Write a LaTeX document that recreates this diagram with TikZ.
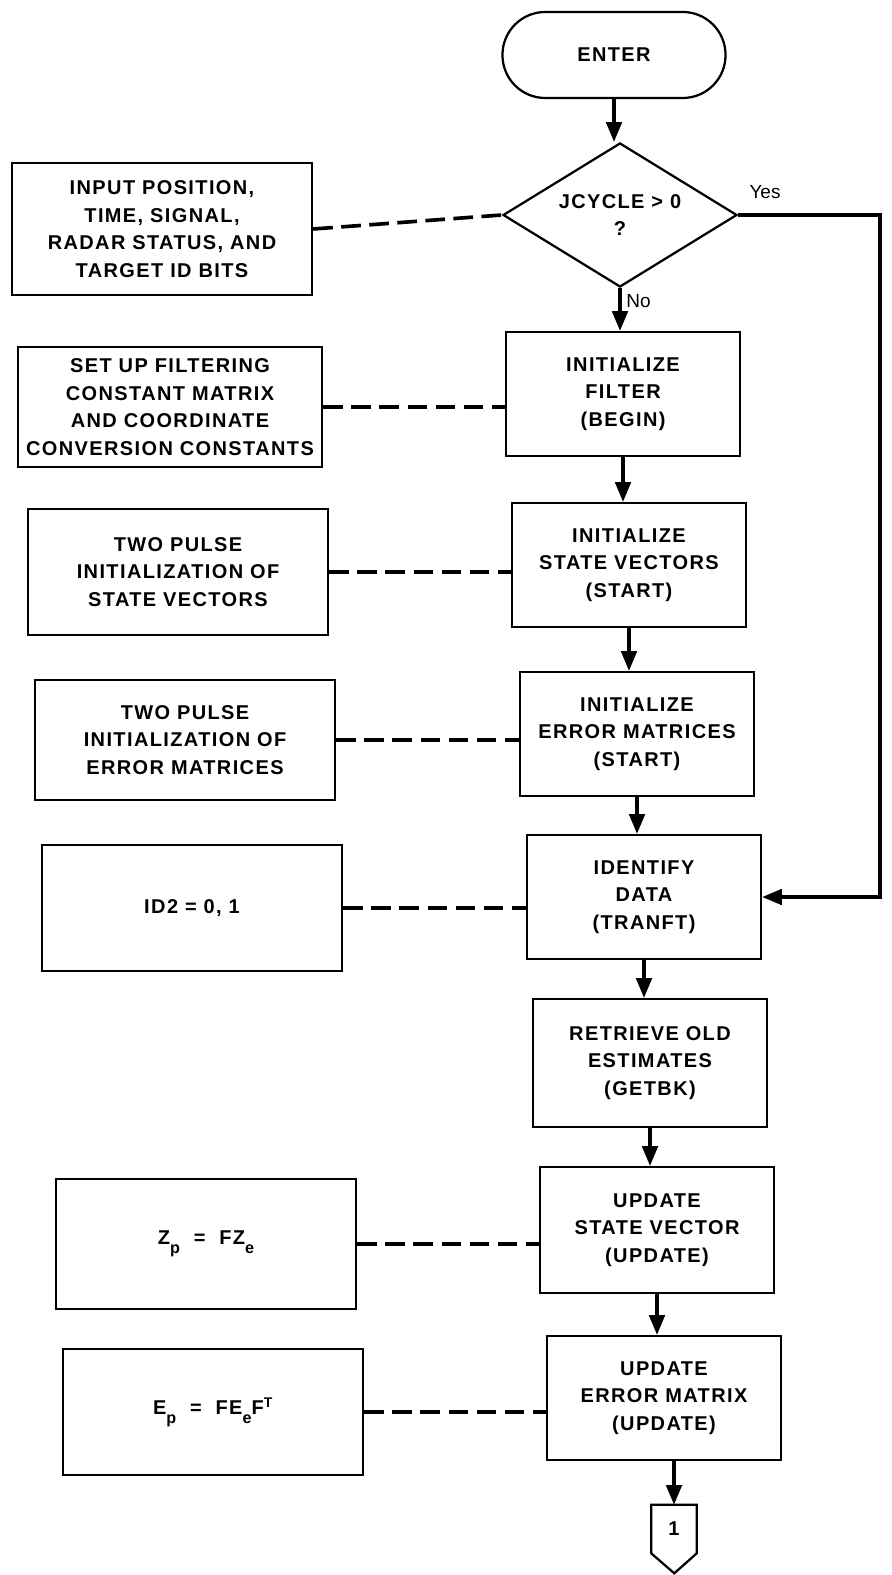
\documentclass[tikz,border=0pt]{standalone}
\usepackage{fontspec}
\setmainfont{Liberation Sans}
\newfontfamily\chartfont[LetterSpace=7]{Liberation Sans}
\usetikzlibrary{shapes.geometric,arrows.meta}
\newcommand{\lowsub}[1]{\raisebox{-0.8ex}{\fontsize{11.5}{12}\selectfont #1}}

\begin{document}
\begin{tikzpicture}[
    x=0.025cm, y=-0.025cm,
    proc/.style={rectangle, draw, line width=1.6pt, minimum width=5.85cm, minimum height=3.1cm, align=center, inner sep=2pt, font=\chartfont\bfseries\fontsize{14.2}{19.5}\selectfont},
    note/.style={proc, minimum width=7.5cm, minimum height=3.15cm},
    term/.style={proc, rounded corners=1.07cm, minimum width=5.575cm, minimum height=2.15cm},
    decide/.style={proc, diamond, aspect=1.6, minimum width=5.85cm, minimum height=3.6cm, inner sep=0pt},
    flow/.style={-{Triangle[length=14pt,width=11pt]}, line width=2.4pt},
    link/.style={line width=2.6pt, dash pattern=on 14pt off 6pt},
    lbl/.style={font=\fontsize{13.5}{15}\selectfont}
]
\useasboundingbox (0,0) rectangle (892,1575);

% main column
\node[term] (enter) at (614,55) {ENTER};
\node[decide] (cond) at (620,215) {JCYCLE > 0\\?};
\node[proc] (filt) at (623,394) {INITIALIZE\\FILTER\\(BEGIN)};
\node[proc] (svec) at (629,565) {INITIALIZE\\STATE VECTORS\\(START)};
\node[proc] (emat) at (637,734) {INITIALIZE\\ERROR MATRICES\\(START)};
\node[proc] (ident) at (644,897) {IDENTIFY\\DATA\\(TRANFT)};
\node[proc, minimum height=3.2cm] (retr) at (650,1063) {RETRIEVE OLD\\ESTIMATES\\(GETBK)};
\node[proc, minimum height=3.15cm] (upsv) at (657,1230) {UPDATE\\STATE VECTOR\\(UPDATE)};
\node[proc] (upem) at (664,1398) {UPDATE\\ERROR MATRIX\\(UPDATE)};
\node[inner sep=0pt, minimum width=1.125cm, minimum height=1.2cm, font=\chartfont\bfseries\fontsize{14.2}{15}\selectfont] (off) at (674,1529) {1};
\draw[line width=1.6pt] (off.north west) -- (off.north east) -- (off.south east) -- ++(-22.5,20) -- (off.south west) -- cycle;

% side notes
\node[note, minimum height=3.3cm] (inp) at (162,229) {INPUT POSITION,\\TIME, SIGNAL,\\RADAR STATUS, AND\\TARGET ID BITS};
\node[note, minimum width=7.6cm, minimum height=3cm] (setup) at (170,407) {SET UP FILTERING\\CONSTANT MATRIX\\AND COORDINATE\\CONVERSION CONSTANTS};
\node[note] (tps) at (178,572) {TWO PULSE\\INITIALIZATION OF\\STATE VECTORS};
\node[note, minimum height=3cm] (tpe) at (185,740) {TWO PULSE\\INITIALIZATION OF\\ERROR MATRICES};
\node[note] (idtwo) at (192,908) {ID2 = 0, 1};
\node[note, minimum height=3.25cm] (zp) at (206,1244) {Z\lowsub{p} \ = \ FZ\lowsub{e}};
\node[note] (ep) at (213,1412) {E\lowsub{p} \ = \ FE\lowsub{e}F\textsuperscript{T}};

\node[lbl] (yes) at (765,192) {Yes};
\coordinate (yesc) at (880,0);

\draw[flow] (enter.south) -- (enter.south |- cond.north);
\draw[flow] (cond.south) -- node[lbl, right, pos=0.3] (no) {No} (cond.south |- filt.north);
\draw[flow] (filt.south) -- (filt.south |- svec.north);
\draw[flow] (svec.south) -- (svec.south |- emat.north);
\draw[flow] (emat.south) -- (emat.south |- ident.north);
\draw[flow] (ident.south) -- (ident.south |- retr.north);
\draw[flow] (retr.south) -- (retr.south |- upsv.north);
\draw[flow] (upsv.south) -- (upsv.south |- upem.north);
\draw[flow] (upem.south -| off.north) -- (off.north);
\draw[flow] (cond.east) -- (cond.east -| yesc) -- (yesc |- ident.east) -- (ident.east);

\draw[link] (inp.east) -- (cond.west);
\draw[link] (setup.east) -- (setup.east -| filt.west);
\draw[link] (tps.east) -- (tps.east -| svec.west);
\draw[link] (tpe.east) -- (tpe.east -| emat.west);
\draw[link] (idtwo.east) -- (idtwo.east -| ident.west);
\draw[link] (zp.east) -- (zp.east -| upsv.west);
\draw[link] (ep.east) -- (ep.east -| upem.west);
\end{tikzpicture}
\end{document}
